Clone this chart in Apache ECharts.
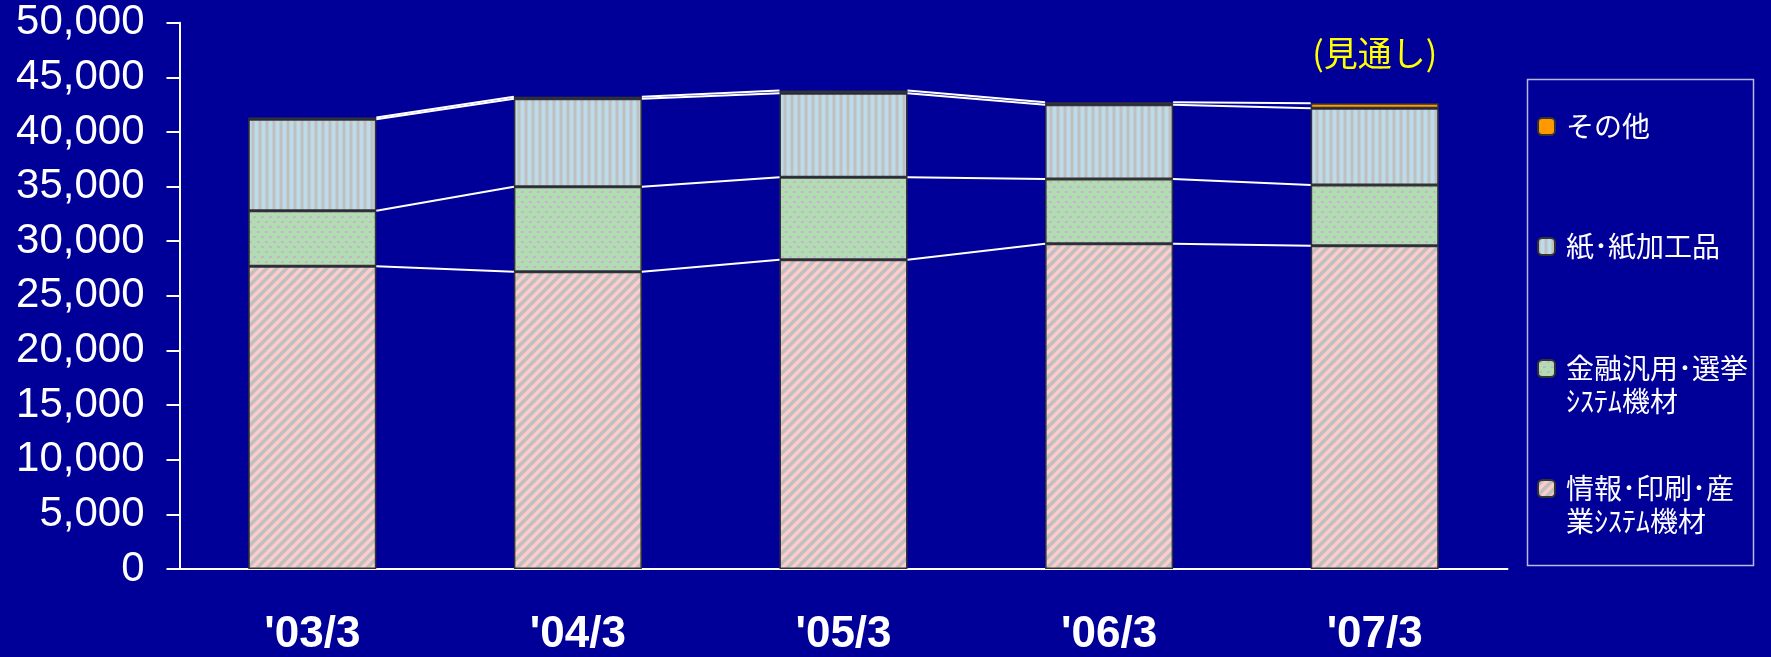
<!DOCTYPE html>
<html>
<head>
<meta charset="utf-8">
<script src="https://cdn.jsdelivr.net/npm/echarts@6/dist/echarts.min.js"></script>
<style>
html,body{margin:0;padding:0;background:#000099;}
#main{width:1771px;height:657px;}
</style>
</head>
<body>
<div id="main"></div>
<script>
// ---- data ----
const categories = ["'03/3", "'04/3", "'05/3", "'06/3", "'07/3"];
const seriesNames = ['情報･印刷･産\n業ｼｽﾃﾑ機材', '金融汎用･選挙\nｼｽﾃﾑ機材', '紙･紙加工品', 'その他'];
const infoPrint = [27700, 27200, 28300, 29770, 29590];
const financial = [5090, 7780, 7550, 5920, 5550];
const paper = [8380, 8050, 7700, 6790, 7040];
const others = [150, 200, 250, 250, 450];
const yTicks = { min: 0, max: 50000, interval: 5000 };
const forecastLabel = '(見通し)';
const forecastIndex = 4;

// ---- patterns ----
function makeCanvas(w, h, draw) {
  const c = document.createElement('canvas');
  c.width = w; c.height = h;
  draw(c.getContext('2d'), w, h);
  return c;
}
const pinkPat = makeCanvas(10, 10, (ctx, w, h) => {
  ctx.fillStyle = '#C0C0C0'; ctx.fillRect(0, 0, w, h);
  ctx.strokeStyle = '#FFCCCC'; ctx.lineWidth = 3.4;
  ctx.beginPath();
  for (let k = -1; k <= 1; k++) {
    ctx.moveTo(-2 + k * w, h + 2); ctx.lineTo(w + 2 + k * w, -2);
  }
  ctx.stroke();
});
const greenPat = makeCanvas(8, 10, (ctx, w, h) => {
  ctx.fillStyle = '#B2DDB2'; ctx.fillRect(0, 0, w, h);
  ctx.fillStyle = '#C4B6CA';
  ctx.fillRect(1, 1, 3, 2);
  ctx.fillRect(5, 6, 3, 2);
});
const bluePat = makeCanvas(7, 4, (ctx, w, h) => {
  const cols = ['#C0C0C0', '#C0C0C0', '#BFCCD4', '#BDDCEA', '#BDDCEA', '#BDDCEA', '#BFCCD4'];
  cols.forEach((c, i) => { ctx.fillStyle = c; ctx.fillRect(i, 0, 1, h); });
});

// ---- cumulative levels for connector lines ----
const stacks = [infoPrint, financial, paper, others];
const levels = [];
let cum = categories.map(() => 0);
stacks.forEach(s => {
  cum = cum.map((v, i) => v + s[i]);
  levels.push(cum.slice());
});
const connectorData = [];
levels.forEach(lv => {
  for (let i = 0; i < lv.length - 1; i++) connectorData.push([i, lv[i], lv[i + 1]]);
});

const BAR_RATIO = 0.482;
const border = { borderColor: '#333333', borderWidth: 1.5 };

const chart = echarts.init(document.getElementById('main'), null, { renderer: 'canvas' });

function barSeries(name, data, color, extra) {
  return Object.assign({
    name: name,
    type: 'bar',
    stack: 'total',
    barWidth: (BAR_RATIO * 100) + '%',
    data: data,
    itemStyle: Object.assign({ color: color }, border),
    emphasis: { disabled: true },
    animation: false
  }, extra || {});
}

const LH = 33;
const legendText = { color: '#FFFFFF', fontSize: 28, fontFamily: 'Noto Sans CJK JP', lineHeight: LH, padding: [0, 0, 0, 6] };
function legendFor(name, iconCenter) {
  const twoLine = name.indexOf('\n') >= 0;
  const textH = twoLine ? LH * 3 : LH;
  return {
    data: [name],
    left: 1537,
    top: iconCenter - textH / 2,
    orient: 'vertical',
    padding: 0,
    itemWidth: 17,
    itemHeight: 17,
    selectedMode: false,
    formatter: n => (twoLine ? '\n' + n : n),
    textStyle: legendText
  };
}

const othersData = others.map((v, i) => i === forecastIndex ? {
  value: v,
  label: {
    show: true, position: 'top', distance: 33, formatter: forecastLabel,
    color: '#FFFF00', fontSize: 34, fontFamily: 'Noto Sans CJK JP'
  }
} : v);

chart.setOption({
  backgroundColor: '#000099',
  animation: false,
  grid: { left: 179.5, right: 263.5, top: 22.7, bottom: 87.3, containLabel: false },
  legend: [
    legendFor(seriesNames[3], 126.5),
    legendFor(seriesNames[2], 246.5),
    legendFor(seriesNames[1], 368.5),
    legendFor(seriesNames[0], 488.5)
  ],
  graphic: [{
    type: 'rect',
    shape: { x: 1527.5, y: 79.5, width: 226, height: 486 },
    style: { fill: 'none', stroke: '#B8B8E8', lineWidth: 1.5 },
    silent: true
  }],
  xAxis: {
    type: 'category',
    data: categories,
    axisLine: { lineStyle: { color: '#FFFFFF', width: 2 } },
    axisTick: { inside: true, length: 15, lineStyle: { color: '#FFFFFF', width: 2 } },
    axisLabel: {
      color: '#FFFFFF', fontSize: 44, fontWeight: 'bold',
      fontFamily: 'Liberation Sans, Arial', margin: 44, lineHeight: 44
    }
  },
  yAxis: {
    type: 'value',
    min: yTicks.min, max: yTicks.max, interval: yTicks.interval,
    splitLine: { show: false },
    axisLine: { show: true, lineStyle: { color: '#FFFFFF', width: 2 } },
    axisTick: { show: true, length: 13, lineStyle: { color: '#FFFFFF', width: 2 } },
    axisLabel: {
      color: '#FFFFFF', fontSize: 42, fontFamily: 'Liberation Sans, Arial', margin: 35,
      padding: [6, 0, 0, 0],
      formatter: v => v.toLocaleString('en-US')
    }
  },
  series: [
    barSeries(seriesNames[0], infoPrint, { image: pinkPat, repeat: 'repeat' }),
    barSeries(seriesNames[1], financial, { image: greenPat, repeat: 'repeat' }),
    barSeries(seriesNames[2], paper, { image: bluePat, repeat: 'repeat' }),
    barSeries(seriesNames[3], othersData, '#FF9900'),
    {
      type: 'custom',
      name: 'connectors',
      data: connectorData,
      silent: true,
      animation: false,
      z: 5,
      renderItem: function (params, api) {
        const i = api.value(0);
        const p0 = api.coord([i, api.value(1)]);
        const p1 = api.coord([i + 1, api.value(2)]);
        const half = api.size([1, 0])[0] * BAR_RATIO / 2;
        return {
          type: 'line',
          shape: { x1: p0[0] + half, y1: p0[1], x2: p1[0] - half, y2: p1[1] },
          style: { stroke: '#FFFFFF', lineWidth: 2 }
        };
      }
    }
  ]
});
</script>
</body>
</html>
